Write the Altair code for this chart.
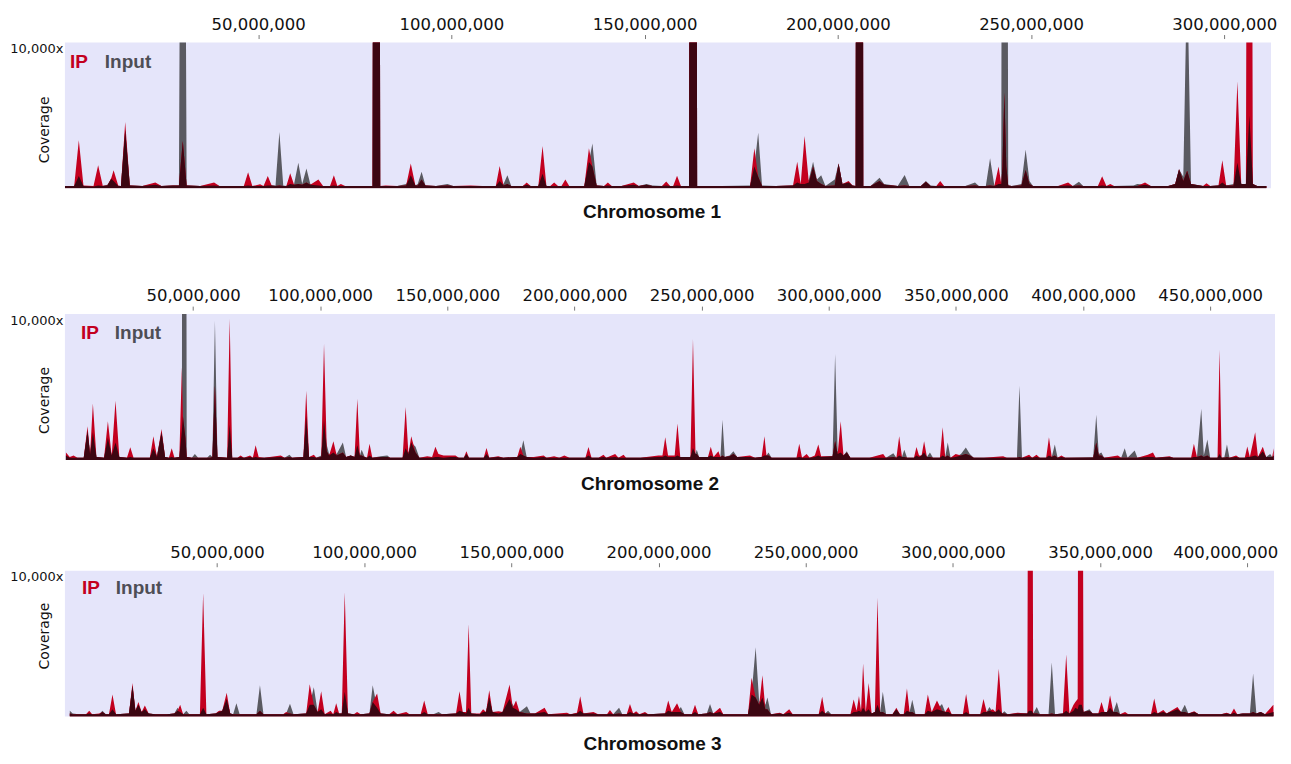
import altair as alt
import pandas as pd

# ---------------- data (positions in Mb, coverage values) ----------------
chr1_pos = [
    0.0, 2.4, 3.6, 4.8, 7.4, 8.6, 9.8, 11.0, 12.0, 12.6,
    13.8, 14.5, 15.6, 16.8, 20.0, 23.4, 25.0, 28.0, 29.5, 30.5,
    31.5, 35.0, 38.6, 40.0, 44.0, 46.3, 47.4, 48.5, 50.5, 51.4,
    52.5, 53.5, 54.5, 55.5, 56.5, 57.3, 58.3, 59.3, 60.4, 61.4,
    62.5, 63.5, 65.6, 66.8, 68.6, 69.6, 70.5, 71.4, 72.5, 79.6,
    80.0, 81.2, 81.6, 83.0, 86.0, 88.3, 89.5, 90.7, 91.3, 92.3,
    93.3, 96.0, 99.0, 100.5, 105.0, 108.0, 111.5, 112.5, 113.5, 114.5,
    115.5, 118.5, 119.5, 120.5, 122.5, 123.6, 124.6, 125.6, 126.6, 127.6,
    128.5, 129.5, 130.5, 134.4, 135.6, 136.5, 137.6, 139.5, 140.5, 141.5,
    144.0, 147.2, 148.5, 150.5, 152.0, 154.5, 155.6, 156.6, 157.4, 158.4,
    159.4, 161.5, 161.8, 163.3, 163.6, 166.0, 170.0, 177.3, 178.4, 179.4,
    180.4, 184.0, 188.4, 189.5, 190.4, 191.4, 192.5, 193.6, 194.6, 195.7,
    196.8, 199.2, 200.2, 201.2, 202.8, 203.8, 204.6, 204.9, 206.3, 206.6,
    208.5, 210.8, 212.0, 215.5, 217.3, 218.5, 221.5, 222.8, 224.0, 225.5,
    226.5, 227.5, 233.0, 235.5, 236.5, 238.3, 239.4, 240.5, 241.6, 242.3,
    242.6, 243.1, 243.6, 244.1, 245.0, 247.5, 248.6, 249.6, 250.5, 257.0,
    259.6, 260.8, 262.4, 263.5, 267.3, 268.4, 269.5, 270.5, 271.5, 276.5,
    277.5, 279.5, 281.0, 285.5, 287.3, 288.3, 289.4, 290.4, 291.4, 294.5,
    295.4, 296.4, 298.5, 299.5, 300.5, 302.4, 303.4, 304.4, 305.6, 306.0,
    306.5, 307.0, 307.4, 308.5, 310.9,
]
chr1_ip = [
    150, 150, 3290, 200, 150, 1580, 180, 200, 700, 1230,
    200, 150, 4540, 200, 150, 400, 150, 200, 200, 3240,
    200, 150, 400, 150, 150, 150, 1100, 150, 280, 150,
    840, 200, 150, 200, 150, 150, 1030, 250, 300, 250,
    400, 250, 600, 150, 150, 900, 150, 300, 150, 150,
    60000, 60000, 150, 200, 150, 200, 1710, 200, 200, 600,
    200, 150, 200, 150, 200, 150, 150, 1530, 200, 300,
    150, 150, 400, 150, 150, 2900, 150, 150, 400, 150,
    150, 600, 150, 150, 2740, 1500, 200, 150, 400, 150,
    150, 400, 150, 250, 150, 150, 470, 150, 150, 860,
    150, 150, 60000, 60000, 150, 150, 150, 150, 2740, 800,
    150, 150, 200, 1830, 300, 3580, 400, 1500, 500, 300,
    150, 200, 1710, 300, 500, 200, 150, 60000, 60000, 150,
    150, 500, 250, 150, 200, 150, 150, 450, 150, 150,
    500, 150, 150, 200, 150, 150, 200, 150, 1490, 300,
    1500, 6550, 1500, 200, 150, 200, 1250, 300, 150, 150,
    400, 150, 200, 150, 150, 820, 150, 300, 150, 150,
    150, 400, 150, 150, 300, 1300, 500, 1200, 300, 150,
    350, 150, 200, 1920, 200, 200, 7350, 300, 300, 40000,
    40000, 40000, 300, 150, 150,
]
chr1_input = [
    150, 150, 840, 150, 120, 200, 150, 250, 650, 500,
    150, 150, 4000, 200, 150, 250, 150, 200, 200, 60000,
    200, 150, 200, 150, 150, 150, 200, 150, 150, 150,
    200, 200, 200, 3860, 200, 150, 300, 300, 1760, 300,
    1350, 300, 200, 150, 150, 200, 150, 150, 150, 150,
    60000, 60000, 150, 150, 150, 300, 900, 200, 300, 1140,
    200, 150, 300, 150, 150, 150, 150, 500, 300, 890,
    150, 150, 250, 150, 150, 1000, 150, 150, 150, 150,
    150, 150, 150, 150, 1800, 3080, 200, 150, 200, 150,
    150, 250, 150, 300, 200, 150, 200, 150, 150, 200,
    150, 150, 60000, 60000, 150, 150, 150, 200, 1500, 3810,
    200, 150, 200, 400, 300, 300, 600, 1830, 600, 900,
    150, 600, 1710, 300, 400, 200, 150, 60000, 60000, 150,
    150, 730, 300, 150, 910, 150, 150, 500, 200, 150,
    200, 150, 150, 400, 150, 150, 2055, 200, 300, 300,
    60000, 60000, 60000, 200, 150, 300, 2670, 500, 150, 150,
    200, 150, 450, 150, 150, 200, 150, 150, 150, 200,
    300, 250, 150, 150, 300, 1300, 800, 15000, 300, 150,
    150, 150, 200, 400, 200, 300, 1750, 300, 300, 2500,
    5000, 2500, 300, 150, 150,
]

chr2_pos = [
    0.0, 1.5, 3.0, 4.5, 7.0, 8.5, 9.5, 10.6, 12.0, 15.0,
    16.5, 18.0, 19.5, 21.0, 24.0, 25.3, 26.6, 33.0, 34.4, 35.8,
    37.6, 39.0, 40.5, 41.6, 42.7, 44.6, 45.6, 46.0, 47.0, 47.5,
    49.5, 50.7, 52.0, 55.5, 56.7, 57.6, 58.6, 59.6, 63.4, 64.4,
    65.4, 67.5, 68.7, 70.0, 72.4, 73.5, 74.6, 75.8, 78.0, 84.5,
    86.0, 87.9, 89.0, 93.4, 94.5, 95.6, 97.5, 98.5, 100.4, 101.5,
    102.6, 103.5, 105.2, 106.5, 108.9, 110.2, 112.0, 113.5, 114.6, 115.6,
    116.3, 117.5, 118.4, 119.4, 120.5, 123.8, 126.4, 127.5, 132.4, 133.6,
    134.7, 135.8, 137.5, 139.0, 142.1, 144.0, 145.3, 146.5, 148.5, 151.2,
    153.2, 154.5, 156.5, 157.5, 158.5, 164.3, 165.4, 166.5, 170.0, 172.0,
    177.5, 178.7, 179.9, 181.2, 184.0, 187.9, 189.0, 192.0, 194.0, 196.0,
    198.0, 204.3, 205.5, 206.7, 209.5, 211.4, 212.5, 216.0, 217.3, 219.3,
    220.3, 226.0, 233.0, 234.6, 235.7, 236.8, 239.4, 240.5, 241.6, 245.6,
    246.6, 247.6, 248.1, 249.0, 252.5, 253.6, 254.7, 256.6, 257.4, 258.2,
    259.1, 261.0, 262.5, 264.0, 269.0, 271.0, 273.6, 274.7, 275.5, 276.3,
    277.5, 287.3, 288.4, 289.5, 291.3, 292.5, 294.5, 295.9, 297.0, 301.5,
    302.5, 303.5, 304.7, 305.8, 307.1, 308.5, 316.0, 321.4, 322.5, 325.4,
    326.6, 327.7, 328.8, 329.7, 330.8, 333.5, 334.5, 335.5, 336.5, 337.5,
    338.6, 339.8, 341.0, 343.7, 344.8, 345.8, 346.8, 347.9, 349.9, 352.0,
    353.9, 355.5, 357.0, 361.0, 368.6, 370.0, 374.0, 375.0, 376.0, 378.8,
    380.0, 381.7, 383.0, 385.5, 386.6, 387.7, 388.9, 390.0, 391.5, 393.0,
    404.0, 405.2, 406.2, 407.2, 408.3, 413.7, 415.0, 416.4, 417.5, 420.3,
    421.4, 425.5, 427.5, 428.6, 434.0, 435.5, 442.5, 443.6, 444.8, 446.5,
    447.5, 448.9, 450.0, 452.9, 453.7, 454.5, 455.6, 456.6, 457.6, 460.2,
    461.5, 463.6, 464.6, 465.6, 467.7, 468.8, 470.7, 472.0, 473.6, 474.4,
    475.0,
]
chr2_ip = [
    500, 200, 300, 150, 150, 2300, 400, 3860, 200, 150,
    2650, 300, 4060, 200, 150, 870, 150, 150, 1620, 200,
    2120, 200, 150, 800, 150, 200, 6350, 3000, 1500, 200,
    150, 150, 150, 150, 150, 200, 5090, 200, 150, 9680,
    150, 150, 300, 150, 300, 150, 1000, 200, 150, 300,
    150, 200, 150, 200, 4750, 200, 350, 150, 200, 7970,
    600, 300, 1280, 300, 500, 200, 300, 200, 4200, 300,
    300, 200, 150, 1100, 150, 200, 200, 150, 150, 3630,
    400, 1620, 500, 150, 250, 200, 900, 400, 300, 300,
    300, 150, 150, 600, 150, 150, 820, 150, 250, 150,
    200, 900, 300, 200, 200, 300, 150, 250, 150, 300,
    150, 150, 880, 150, 150, 350, 150, 400, 150, 350,
    150, 150, 300, 300, 1550, 300, 300, 2490, 200, 200,
    8290, 400, 400, 200, 200, 900, 200, 600, 200, 300,
    200, 250, 400, 200, 300, 150, 200, 1620, 300, 300,
    150, 150, 1100, 150, 400, 150, 300, 1050, 250, 250,
    1300, 400, 2650, 300, 500, 150, 150, 400, 150, 200,
    150, 1620, 200, 200, 150, 150, 880, 300, 300, 1280,
    200, 200, 150, 150, 2240, 200, 300, 150, 400, 300,
    400, 300, 150, 150, 250, 150, 150, 200, 150, 350,
    150, 350, 150, 150, 1550, 200, 300, 150, 300, 150,
    150, 1200, 300, 300, 150, 300, 150, 150, 150, 150,
    150, 350, 500, 150, 250, 150, 150, 1100, 200, 300,
    200, 300, 150, 150, 7560, 150, 150, 200, 150, 300,
    150, 150, 920, 200, 1900, 200, 900, 200, 200, 200,
    800,
]
chr2_input = [
    300, 150, 150, 150, 150, 2000, 400, 1900, 200, 150,
    1500, 300, 1200, 200, 150, 200, 150, 150, 800, 300,
    1900, 200, 150, 200, 150, 200, 2000, 60000, 60000, 200,
    150, 400, 150, 150, 350, 200, 9540, 200, 150, 2420,
    150, 150, 200, 150, 200, 150, 200, 150, 150, 200,
    150, 350, 150, 200, 3000, 200, 200, 150, 300, 2760,
    1000, 400, 500, 400, 1200, 200, 300, 200, 1000, 300,
    700, 200, 150, 300, 150, 250, 300, 150, 150, 800,
    500, 1200, 900, 150, 150, 150, 200, 200, 150, 200,
    200, 150, 150, 400, 150, 150, 400, 150, 200, 150,
    200, 400, 1350, 200, 150, 200, 150, 150, 150, 150,
    150, 150, 300, 150, 150, 200, 150, 200, 150, 150,
    150, 150, 200, 200, 300, 200, 200, 300, 200, 200,
    820, 400, 700, 200, 200, 300, 200, 200, 200, 2760,
    200, 300, 600, 200, 200, 150, 200, 300, 300, 500,
    150, 150, 200, 150, 150, 150, 200, 300, 200, 250,
    7260, 600, 500, 300, 600, 150, 150, 150, 150, 450,
    150, 300, 200, 700, 150, 150, 300, 200, 300, 500,
    200, 500, 150, 150, 300, 200, 1200, 150, 200, 400,
    850, 400, 150, 150, 150, 150, 150, 5090, 150, 200,
    150, 200, 150, 150, 300, 200, 1050, 150, 200, 150,
    200, 3100, 400, 500, 150, 150, 150, 800, 150, 650,
    150, 200, 200, 150, 200, 150, 150, 200, 200, 3510,
    300, 1400, 150, 150, 400, 150, 200, 1050, 150, 200,
    150, 150, 200, 200, 300, 200, 600, 200, 400, 200,
    300,
]

chr3_pos = [
    0.0, 1.0, 3.0, 5.5, 6.6, 7.6, 10.0, 11.1, 12.2, 13.3,
    14.5, 15.7, 20.1, 21.3, 22.3, 23.3, 24.4, 25.5, 26.8, 29.0,
    33.0, 35.5, 36.6, 37.5, 38.5, 39.6, 40.6, 44.2, 45.3, 46.4,
    49.5, 50.7, 51.8, 53.3, 54.5, 55.5, 56.6, 57.7, 63.4, 64.6,
    65.8, 72.5, 73.5, 74.8, 76.0, 80.3, 81.5, 82.9, 84.2, 85.4,
    86.6, 88.6, 89.5, 90.5, 91.5, 92.4, 93.4, 94.5, 96.5, 97.6,
    98.8, 101.8, 102.9, 104.4, 105.6, 108.5, 110.0, 111.3, 114.3, 115.4,
    119.2, 120.4, 121.6, 123.5, 125.3, 126.5, 131.2, 132.4, 133.5, 134.6,
    135.5, 136.4, 139.3, 140.4, 141.4, 142.5, 143.6, 145.7, 147.0, 149.4,
    150.5, 151.6, 152.8, 155.3, 156.5, 158.0, 161.3, 162.5, 168.9, 170.0,
    172.3, 173.4, 174.5, 177.9, 179.5, 182.5, 183.5, 184.6, 186.6, 187.7,
    189.2, 190.3, 191.4, 192.4, 193.5, 195.4, 196.5, 202.2, 203.3, 204.5,
    206.3, 207.6, 208.8, 211.3, 212.4, 213.5, 216.4, 217.5, 218.6, 220.9,
    222.0, 230.4, 231.6, 233.0, 234.2, 235.3, 236.3, 237.0, 238.2, 241.2,
    242.4, 244.4, 245.6, 254.4, 255.6, 256.6, 257.6, 258.7, 265.2, 266.3,
    267.3, 268.1, 268.8, 269.5, 270.4, 271.4, 272.4, 273.5, 274.4, 275.3,
    276.2, 277.3, 279.5, 280.8, 282.0, 283.3, 284.4, 285.3, 286.2, 287.3,
    290.4, 291.5, 292.8, 294.6, 296.3, 297.4, 298.5, 299.6, 303.4, 304.5,
    305.6, 309.3, 310.4, 311.5, 312.4, 313.6, 314.5, 315.6, 316.7, 317.5,
    318.6, 322.0, 325.3, 325.8, 326.8, 327.3, 328.5, 329.6, 332.5, 333.6,
    334.7, 337.4, 338.5, 339.6, 341.0, 341.6, 342.4, 342.8, 343.8, 344.4,
    346.4, 347.5, 349.4, 350.5, 351.5, 352.4, 353.4, 354.5, 355.7, 356.8,
    358.5, 359.6, 367.3, 368.4, 369.5, 371.5, 372.6, 376.3, 377.5, 378.8,
    380.0, 382.0, 383.5, 391.0, 393.0, 394.4, 395.5, 396.6, 398.5, 400.9,
    402.0, 403.1, 404.6, 406.0, 408.9,
]
chr3_ip = [
    200, 150, 150, 150, 400, 150, 200, 300, 150, 150,
    1500, 150, 200, 2300, 400, 1000, 300, 760, 200, 150,
    150, 200, 400, 800, 150, 150, 150, 150, 8470, 150,
    200, 400, 400, 1620, 200, 150, 150, 150, 150, 400,
    150, 150, 300, 200, 150, 200, 2210, 800, 300, 1730,
    150, 400, 150, 900, 200, 200, 8520, 200, 150, 300,
    150, 200, 1000, 1580, 200, 150, 400, 150, 300, 150,
    150, 1100, 150, 150, 150, 150, 200, 1730, 300, 300,
    6350, 200, 200, 500, 300, 1800, 300, 350, 300, 2190,
    600, 1100, 300, 200, 200, 200, 600, 150, 250, 150,
    250, 1390, 200, 300, 150, 150, 450, 150, 200, 150,
    150, 850, 200, 350, 150, 300, 150, 200, 1100, 300,
    900, 300, 150, 150, 800, 150, 200, 300, 200, 600,
    150, 150, 2650, 1300, 800, 2830, 500, 500, 150, 250,
    150, 500, 150, 150, 1350, 200, 200, 150, 150, 1160,
    400, 1400, 400, 3630, 300, 2300, 200, 300, 8170, 300,
    300, 150, 150, 600, 150, 150, 1920, 300, 300, 150,
    150, 1500, 300, 1100, 400, 300, 650, 150, 150, 1550,
    150, 150, 1200, 300, 400, 500, 300, 3270, 200, 200,
    150, 250, 200, 40000, 40000, 200, 200, 150, 150, 200,
    150, 200, 4250, 200, 800, 1000, 1200, 40000, 40000, 300,
    400, 200, 200, 1000, 300, 300, 1450, 300, 300, 150,
    300, 150, 150, 1230, 200, 450, 200, 650, 300, 300,
    200, 350, 150, 150, 250, 150, 550, 150, 200, 200,
    300, 200, 300, 150, 800,
]
chr3_input = [
    400, 200, 150, 150, 200, 150, 150, 400, 150, 150,
    500, 150, 200, 2100, 400, 800, 300, 500, 200, 150,
    150, 200, 600, 300, 150, 400, 150, 150, 600, 150,
    200, 300, 400, 1200, 200, 150, 900, 150, 150, 2150,
    150, 150, 200, 880, 150, 200, 800, 2010, 300, 500,
    150, 200, 150, 300, 200, 200, 1700, 200, 150, 150,
    150, 200, 2150, 600, 200, 150, 200, 150, 150, 150,
    150, 300, 150, 150, 300, 150, 200, 400, 300, 200,
    600, 200, 150, 300, 300, 1300, 300, 200, 300, 1200,
    800, 500, 300, 700, 200, 200, 300, 150, 150, 150,
    200, 400, 200, 200, 150, 150, 200, 150, 600, 150,
    150, 300, 200, 200, 150, 200, 150, 200, 400, 300,
    300, 650, 150, 150, 300, 150, 200, 850, 200, 300,
    150, 150, 1500, 4750, 1000, 1300, 800, 1300, 150, 200,
    150, 250, 150, 150, 400, 200, 400, 150, 150, 300,
    300, 400, 300, 600, 300, 500, 200, 300, 800, 300,
    1690, 150, 150, 500, 150, 150, 400, 300, 1150, 150,
    150, 400, 300, 500, 850, 300, 300, 150, 150, 300,
    150, 150, 300, 300, 650, 300, 300, 500, 200, 350,
    150, 200, 200, 400, 400, 200, 650, 150, 150, 3720,
    150, 200, 400, 200, 400, 600, 500, 800, 800, 300,
    500, 200, 200, 300, 300, 300, 600, 300, 1000, 150,
    150, 150, 150, 300, 200, 300, 200, 500, 300, 800,
    200, 300, 150, 150, 200, 150, 250, 150, 200, 200,
    2950, 200, 300, 150, 300,
]

chr1_ticks = [50, 100, 150, 200, 250, 300]
chr2_ticks = [50, 100, 150, 200, 250, 300, 350, 400, 450]
chr3_ticks = [50, 100, 150, 200, 250, 300, 350, 400]
chrom_names = ["Chromosome 1", "Chromosome 2", "Chromosome 3"]
legend_labels = ["IP", "Input"]
y_tick = [10000]

# ---------------- styling ----------------
RED = "#c3001f"
GRAY = "#5a5a61"
DARK = "#3c0612"
BG = "#e5e5fa"
TEXT_GRAY = "#4e4e55"
BOLD_FONT = "Liberation Sans"
REG_FONT = "DejaVu Sans"
PLOT_H = 146


def panel(name, pos, ip, inp, ticks, domain, width, title_dx, title_offset,
          cov_y, leg_x, leg_y, last_shift=0):
    assert len(pos) == len(ip) == len(inp), name
    df = pd.DataFrame({"pos": pos, "ip": ip, "input": inp})

    label_offset = 0
    if last_shift:
        # keep the right-most tick label inside the page (as in the original)
        label_offset = {
            "condition": {"test": f"datum.value == {ticks[-1]}", "value": last_shift},
            "value": 0,
        }

    xenc = alt.X(
        "pos:Q", title=None,
        scale=alt.Scale(domain=domain, nice=False, zero=False),
        axis=alt.Axis(
            orient="top", values=ticks,
            labelExpr="format(datum.value * 1000000, ',')",
            domain=False, grid=False, ticks=True, tickSize=4,
            tickColor="#777777", tickWidth=1, offset=4, labelPadding=2.5,
            labelFontSize=16.5, labelFont=REG_FONT, labelColor="#111111",
            labelFlush=False, labelOverlap=False, labelOffset=label_offset,
        ),
    )
    yscale = alt.Scale(domain=[0, 10000], nice=False, zero=True)
    yaxis = alt.Axis(
        values=y_tick, labelExpr="format(datum.value, ',') + 'x'",
        ticks=False, domain=False, grid=False,
        labelFontSize=13, labelFont=REG_FONT, labelPadding=2,
        labelBaseline="top", labelColor="#111111", labelFlush=False,
        title="Coverage", titleFontSize=14, titleFont=REG_FONT,
        titleFontWeight="normal", titleColor="#111111",
        titleAngle=270, titleBaseline="bottom", titleAlign="center",
        titleX=-13, titleY=cov_y,
    )

    base = alt.Chart(df).transform_calculate(both="min(datum.ip, datum.input)")
    input_area = base.mark_area(color=GRAY, clip=True).encode(
        x=xenc, y=alt.Y("input:Q", scale=yscale, axis=yaxis))
    ip_area = base.mark_area(color=RED, clip=True).encode(
        x=xenc, y=alt.Y("ip:Q", scale=yscale, axis=yaxis))
    both_area = base.mark_area(color=DARK, clip=True).encode(
        x=xenc, y=alt.Y("both:Q", scale=yscale, axis=yaxis))

    ip_text = alt.Chart(pd.DataFrame({"label": [legend_labels[0]]})).mark_text(
        align="left", baseline="alphabetic", fontSize=19, fontWeight="bold",
        font=BOLD_FONT, color=RED,
    ).encode(text="label:N", x=alt.value(leg_x[0]), y=alt.value(leg_y))
    input_text = alt.Chart(pd.DataFrame({"label": [legend_labels[1]]})).mark_text(
        align="left", baseline="alphabetic", fontSize=19, fontWeight="bold",
        font=BOLD_FONT, color=TEXT_GRAY,
    ).encode(text="label:N", x=alt.value(leg_x[1]), y=alt.value(leg_y))

    return alt.layer(input_area, ip_area, both_area, ip_text, input_text).properties(
        width=width, height=PLOT_H,
        title=alt.TitleParams(
            text=name, orient="bottom", anchor="middle", fontSize=19,
            fontWeight="bold", font=BOLD_FONT, color="#111111",
            offset=title_offset, dx=title_dx,
        ),
    )


p1 = panel(chrom_names[0], chr1_pos, chr1_ip, chr1_input, chr1_ticks,
           [0, 312.1], 1208, -16, 15, 87, (5, 40), 26)
p2 = panel(chrom_names[1], chr2_pos, chr2_ip, chr2_input, chr2_ticks,
           [-0.4, 475.5], 1212, -20, 15, 86, (16, 50), 25)
p3 = panel(chrom_names[2], chr3_pos, chr3_ip, chr3_input, chr3_ticks,
           [-1.66, 409.1], 1211, -17, 19, 65, (17, 51), 23, last_shift=-22)

upper = alt.VConcatChart(vconcat=[p1, p2], spacing=65)
chart = alt.VConcatChart(vconcat=[upper, p3], spacing=50).properties(
    padding={"left": 1, "top": 7, "right": 5, "bottom": 0},
    background="white",
).configure_view(fill=BG, stroke=None)

chart.save("out.html", embed_options={"renderer": "svg", "actions": False})
